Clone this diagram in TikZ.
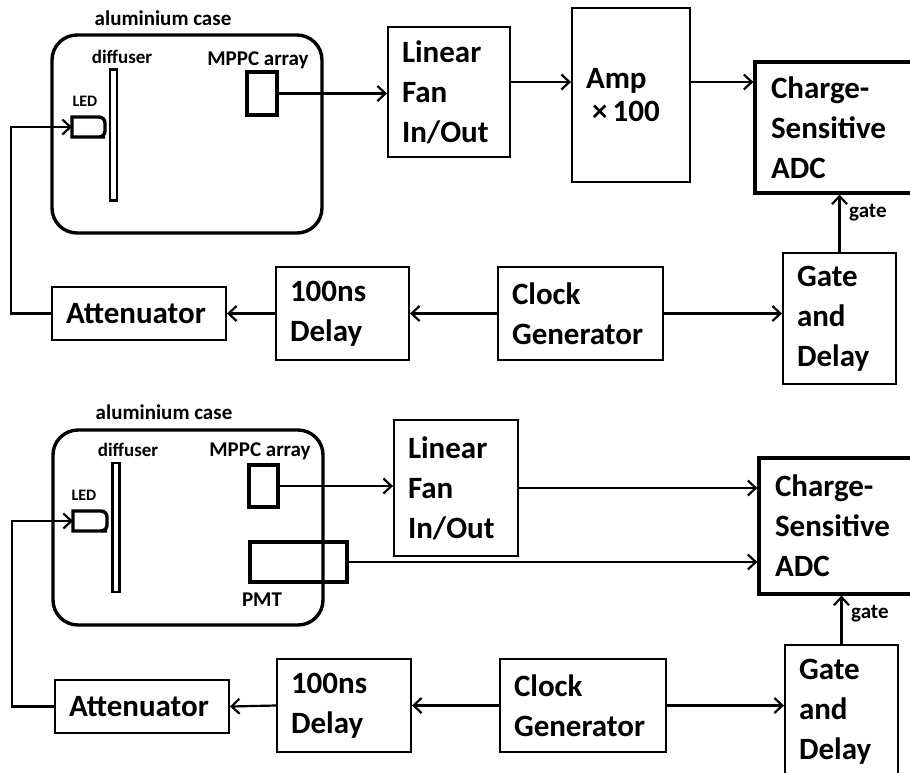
\documentclass[tikz,border=0pt]{standalone}
\usepackage{fontspec}
\setmainfont{Carlito}
\usetikzlibrary{arrows.meta}

\tikzset{
  blk/.style={draw,line width=1.9pt,align=left,inner xsep=14pt,inner ysep=0pt,
    font=\bfseries\fontsize{31}{40}\selectfont},
  thk/.style={draw,line width=3.4pt,inner sep=0pt},
  lbl/.style={inner sep=0pt,font=\bfseries\fontsize{21}{23}\selectfont},
  sig/.style={->,line width=2.2pt},
}

\begin{document}
\begin{tikzpicture}[x=1pt,y=-1pt,>={Straight Barb[length=8pt,width=15pt]}]
\useasboundingbox (0,0) rectangle (910,772);
\clip (0,0) rectangle (910,772);
% upper set-up
\node[thk,rounded corners=25pt,minimum width=270pt,minimum height=198pt] (caseA) at (187,134) {};
\node[lbl] (caseAlbl) at (163,18) {aluminium case};
\node[thk,line width=2.6pt,minimum width=7pt,minimum height=131pt] (difA) at (113.5,135) {};
\node[lbl,font=\bfseries\fontsize{19}{21}\selectfont] (difAlbl) at (122,57) {diffuser};
\node[thk,minimum width=30pt,minimum height=43pt] (mppcA) at (262,93.5) {};
\node[lbl] (mppcAlbl) at (258,60) {MPPC array};
\node[lbl,font=\bfseries\fontsize{16}{18}\selectfont] (ledAlbl) at (85,101) {LED};
\draw[line width=3.4pt] (72,117) -- (99,117) [rounded corners=6pt] -- (105,117) -- (105,137) -- (99,137) [sharp corners] -- (72,137) -- cycle;
\coordinate (ledA) at (72,127);
\node[blk,text width=94pt,minimum height=130pt] (fanA) at (449,92) {Linear\\Fan\\In/Out};
\node[blk,text width=90pt,minimum height=174pt] (ampA) at (631,95) {Amp\\[-7pt]\hspace{6pt}×\,100};
\node[blk,line width=3.2pt,inner xsep=16pt,text width=140pt,minimum height=131pt] (adcA) at (841,127.5) {Charge-\\Sensitive\\ADC};
\node[blk,text width=85pt,minimum height=131pt] (gateA) at (839.5,318.5) {Gate\\and\\Delay};
\node[blk,text width=137pt,minimum height=93pt] (clkA) at (580.5,313.5) {Clock\\Generator};
\node[blk,text width=105pt,minimum height=93pt] (dlyA) at (342.5,313.5) {100ns\\Delay};
\node[blk,text width=146pt,minimum height=53pt] (attA) at (139,313.5) {Attenuator};
\node[lbl,anchor=west] (gateAlbl) at (849,213) {gate};
\draw[sig] (mppcA.east) -- (mppcA.east -| fanA.west);
\draw[sig] ([yshift=10pt]fanA.east) -- ([yshift=10pt]fanA.east -| ampA.west);
\draw[sig] ([yshift=13pt]ampA.east) -- ([yshift=13pt]ampA.east -| adcA.west);
\draw[sig] (gateA.north) -- (gateA.north |- adcA.south);
\draw[sig] (clkA.west) -- (dlyA.east);
\draw[sig] (dlyA.west) -- (attA.east);
\draw[sig] (clkA.east) -- (clkA.east -| gateA.west);
\draw[sig] (attA.west) -- ++(-40,0) |- (ledA);
% lower set-up
\node[thk,rounded corners=25pt,minimum width=270pt,minimum height=195pt] (caseB) at (188,527.5) {};
\node[lbl] (caseBlbl) at (164,412) {aluminium case};
\node[thk,line width=2.6pt,minimum width=7pt,minimum height=129pt] (difB) at (116,527.5) {};
\node[lbl,font=\bfseries\fontsize{19}{21}\selectfont] (difBlbl) at (128,450) {diffuser};
\node[thk,minimum width=29pt,minimum height=42pt] (mppcB) at (263.5,486) {};
\node[lbl] (mppcBlbl) at (260,451) {MPPC array};
\node[thk,minimum width=97pt,minimum height=40pt] (pmtB) at (298.5,562) {};
\node[lbl] (pmtBlbl) at (262,600) {PMT};
\node[lbl,font=\bfseries\fontsize{16}{18}\selectfont] (ledBlbl) at (84,495) {LED};
\draw[line width=3.4pt] (73,511) -- (101,511) [rounded corners=6pt] -- (107,511) -- (107,531) -- (101,531) [sharp corners] -- (73,531) -- cycle;
\coordinate (ledB) at (73,521);
\node[blk,text width=96pt,minimum height=136pt] (fanB) at (456,488) {Linear\\Fan\\In/Out};
\node[blk,line width=3.2pt,inner xsep=16pt,text width=140pt,minimum height=136pt] (adcB) at (845,526) {Charge-\\Sensitive\\ADC};
\node[blk,text width=85pt,minimum height=134pt] (gateB) at (841.5,712) {Gate\\and\\Delay};
\node[blk,text width=138pt,minimum height=93pt] (clkB) at (583,705.5) {Clock\\Generator};
\node[blk,text width=106pt,minimum height=93pt] (dlyB) at (344,705.5) {100ns\\Delay};
\node[blk,text width=146pt,minimum height=53pt] (attB) at (142,706.5) {Attenuator};
\node[lbl,anchor=west] (gateBlbl) at (851,614) {gate};
\draw[sig] (mppcB.east) -- (mppcB.east -| fanB.west);
\draw[sig] (fanB.east) -- (fanB.east -| adcB.west);
\draw[sig] (pmtB.east) -- (pmtB.east -| adcB.west);
\draw[sig] (gateB.north) -- (gateB.north |- adcB.south);
\draw[sig] (clkB.west) -- (dlyB.east);
\draw[sig] (dlyB.west) -- (attB.east);
\draw[sig] (clkB.east) -- (clkB.east -| gateB.west);
\draw[sig] (attB.west) -- ++(-42,0) |- (ledB);
\end{tikzpicture}
\end{document}
